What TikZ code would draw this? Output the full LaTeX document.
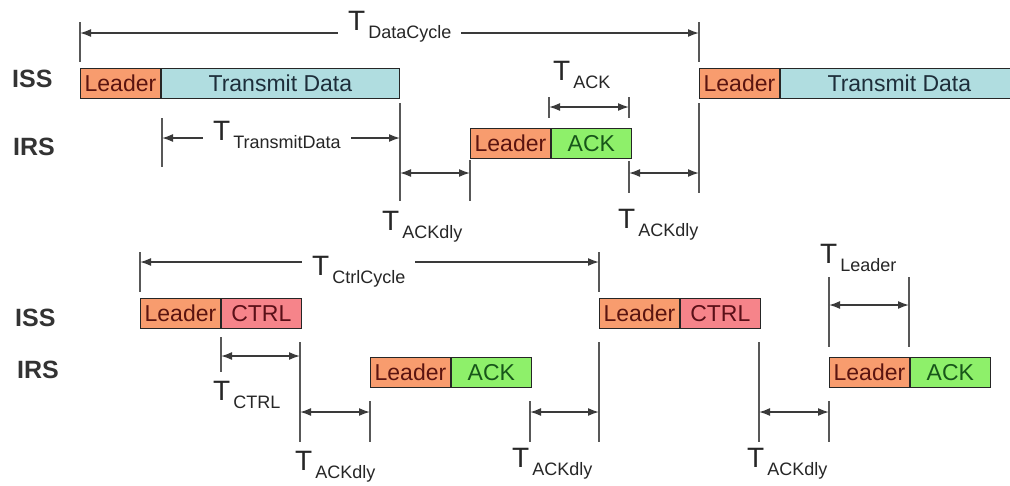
\documentclass[tikz,border=0pt]{standalone}
\usepackage{fontspec}
\setmainfont{Liberation Sans}
\usetikzlibrary{arrows.meta,positioning}

\definecolor{leaderfill}{HTML}{F89C6E}
\definecolor{leadertext}{HTML}{5A1410}
\definecolor{datafill}{HTML}{B0DDE0}
\definecolor{datatext}{HTML}{1E2E3A}
\definecolor{ackfill}{HTML}{8EF06A}
\definecolor{acktext}{HTML}{18561A}
\definecolor{ctrlfill}{HTML}{F6848A}
\definecolor{ctrltext}{HTML}{5A1018}
\definecolor{linegray}{HTML}{3A3A3A}

% time label: big T with lowered subscript
\newcommand{\Tlab}[1]{{\fontsize{28}{28}\selectfont T}\hspace{3pt}{\fontsize{18}{18}\selectfont\raisebox{-8pt}{#1}}}

\tikzset{
  segment/.style={draw=black!85, line width=0.9pt, inner sep=0pt,
    minimum height=30pt, anchor=north west,
    font=\fontsize{23}{23}\selectfont},
  leadbox/.style={segment, fill=leaderfill, text=leadertext, minimum width=80pt},
  databox/.style={segment, fill=datafill, text=datatext, minimum width=238pt},
  ackbox/.style={segment, fill=ackfill, text=acktext, minimum width=80pt},
  ctrlbox/.style={segment, fill=ctrlfill, text=ctrltext, minimum width=80pt},
  tick/.style={draw=linegray!85, line width=1.8pt},
  dim/.style={draw=linegray, line width=1.6pt,
    {Latex[length=11pt,width=8pt]}-{Latex[length=11pt,width=8pt]}},
  tlabel/.style={anchor=base west, inner sep=0pt, text=black!85},
  gaplabel/.style={tlabel, fill=white, inner xsep=10pt, inner ysep=1pt},
  station/.style={anchor=base west, inner sep=0pt, text=black!80,
    font=\fontsize{25}{25}\selectfont\bfseries}
}

\begin{document}
\begin{tikzpicture}[x=1pt,y=-1pt]

    \clip (0,0) rectangle (1010,485);

    % ================= data cycle (top) =================

    % Station names
    \node[station] (issA) at (12,87) {ISS};
    \node[station] (irsA) at (13,155) {IRS};

    % Frames on the ISS and IRS lines
    \node[leadbox] (issAlead) at (80,68) {Leader};
    \node[databox, right=0pt of issAlead] (issAdata) {Transmit Data};
    \node[leadbox] (irsAlead) at (470,128) {Leader};
    \node[ackbox, right=0pt of irsAlead] (irsAack) {ACK};
    \node[leadbox] (issBlead) at (699,68) {Leader};
    \node[databox, right=0pt of issBlead] (issBdata) {Transmit Data};

    % Vertical time marks: x / top / bottom
    \foreach \x/\ya/\yb in {80/22/62, 699/22/62, 699/103/193, 162/118/167,
                            400/103/201, 470/160/201, 549/97/118,
                            629/97/118, 629/161/193}
        \draw[tick] (\x,\ya) -- (\x,\yb);

    % Dimension arrows
    \coordinate (dcL) at (80,33);   \coordinate (dcR) at (699,33);
    \coordinate (tdL) at (162,138); \coordinate (tdR) at (400,138);
    \coordinate (akL) at (549,107); \coordinate (akR) at (629,107);
    \coordinate (d1L) at (400,173); \coordinate (d1R) at (470,173);
    \coordinate (d2L) at (629,173); \coordinate (d2R) at (699,173);
    \draw[dim] (dcL) -- (dcR);
    \draw[dim] (tdL) -- (tdR);
    \draw[dim] (akL) -- (akR);
    \draw[dim] (d1L) -- (d1R);
    \draw[dim] (d2L) -- (d2R);

    % Time labels
    \node[gaplabel] (tDataCycle) at (338,30) {\Tlab{DataCycle}};
    \node[gaplabel] (tTransmit) at (203,140) {\Tlab{TransmitData}};
    \node[tlabel] (tAck) at (553,80) {\Tlab{ACK}};
    \node[tlabel] (tDlyA) at (382,230) {\Tlab{ACKdly}};
    \node[tlabel] (tDlyB) at (618,228) {\Tlab{ACKdly}};

    % ================= control cycle (bottom) =================

    % Station names
    \node[station] (issC) at (15,326) {ISS};
    \node[station] (irsC) at (17,378) {IRS};

    % Frames on the ISS and IRS lines
    \node[leadbox] (issClead) at (140,298) {Leader};
    \node[ctrlbox, right=0pt of issClead] (issCctrl) {CTRL};
    \node[leadbox] (irsClead) at (370,357) {Leader};
    \node[ackbox, right=0pt of irsClead] (irsCack) {ACK};
    \node[leadbox] (issDlead) at (599,298) {Leader};
    \node[ctrlbox, right=0pt of issDlead] (issDctrl) {CTRL};
    \node[leadbox] (irsDlead) at (829,357) {Leader};
    \node[ackbox, right=0pt of irsDlead] (irsDack) {ACK};

    % Vertical time marks: x / top / bottom
    \foreach \x/\ya/\yb in {140/252/292, 599/252/292, 599/342/442,
                            221/337/372, 300/342/442, 370/401/442,
                            530/401/442, 759/342/442, 829/401/442,
                            829/277/347, 909/277/347}
        \draw[tick] (\x,\ya) -- (\x,\yb);

    % Dimension arrows
    \coordinate (ccL) at (140,262); \coordinate (ccR) at (599,262);
    \coordinate (ctL) at (221,356); \coordinate (ctR) at (300,356);
    \coordinate (ldL) at (829,305); \coordinate (ldR) at (909,305);
    \coordinate (d3L) at (300,412); \coordinate (d3R) at (370,412);
    \coordinate (d4L) at (530,412); \coordinate (d4R) at (599,412);
    \coordinate (d5L) at (759,412); \coordinate (d5R) at (829,412);
    \draw[dim] (ccL) -- (ccR);
    \draw[dim] (ctL) -- (ctR);
    \draw[dim] (ldL) -- (ldR);
    \draw[dim] (d3L) -- (d3R);
    \draw[dim] (d4L) -- (d4R);
    \draw[dim] (d5L) -- (d5R);

    % Time labels
    \node[gaplabel] (tCtrlCycle) at (302,275) {\Tlab{CtrlCycle}};
    \node[tlabel] (tCtrl) at (213,400) {\Tlab{CTRL}};
    \node[tlabel] (tLeader) at (820,263) {\Tlab{Leader}};
    \node[tlabel] (tDlyC) at (295,470) {\Tlab{ACKdly}};
    \node[tlabel] (tDlyD) at (512,467) {\Tlab{ACKdly}};
    \node[tlabel] (tDlyE) at (747,467) {\Tlab{ACKdly}};

\end{tikzpicture}
\end{document}
